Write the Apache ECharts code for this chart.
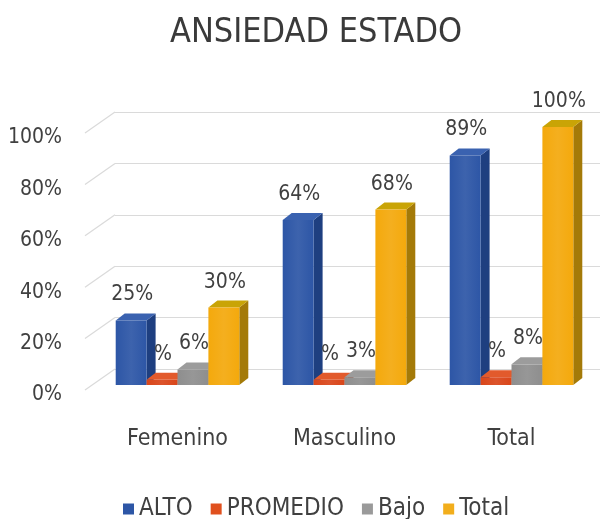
<!DOCTYPE html>
<html><head><meta charset="utf-8">
<script src="https://cdn.jsdelivr.net/npm/echarts@6/dist/echarts.min.js"></script>
<style>html,body{margin:0;padding:0;background:#fff}#c{width:608px;height:519px}</style>
</head><body><div id="c"></div>
<script>
var categories = ['Femenino', 'Masculino', 'Total'];
var seriesNames = ['ALTO', 'PROMEDIO', 'Bajo', 'Total'];
var alto = [25, 64, 89];
var promedio = [2, 2, 3];
var bajo = [6, 3, 8];
var total = [30, 68, 100];
var yTicks = [0, 20, 40, 60, 80, 100];
var showNumber = [true, false, true, true];

var FONT = '"Liberation Sans Narrow", "DejaVu Sans Condensed", sans-serif';
var palettes = [
  {front: '#2D56A6', top: '#3A62B0', side: '#1E3F80', legend: '#2D56A6'},
  {front: '#D9461A', top: '#E25A2C', side: '#A83310', legend: '#E0501E'},
  {front: '#8E8E8E', top: '#9C9C9C', side: '#6E6E6E', legend: '#9A9A9A'},
  {front: '#F4A90C', top: '#C9A406', side: '#A47A08', legend: '#F2AE1C'}
];
var allData = [alto, promedio, bajo, total];
var DX = 9, DY = 7;

function makeRender(si) {
  return function (params, api) {
    var ci = api.value(0), v = api.value(1);
    var topPt = api.coord([ci, v]);
    var basePt = api.coord([ci, 0]);
    var band = api.size([1, 0])[0];
    var bw = band * 0.74 / 4;
    var x0 = topPt[0] - 2 * bw + si * bw;
    var yt = topPt[1], yb = basePt[1];
    var p = palettes[si];
    var children = [
      {type: 'polygon', shape: {points: [[x0 + bw, yt], [x0 + bw + DX, yt - DY], [x0 + bw + DX, yb - DY], [x0 + bw, yb]]},
        style: {fill: p.side}},
      {type: 'polygon', shape: {points: [[x0, yt], [x0 + DX, yt - DY], [x0 + bw + DX, yt - DY], [x0 + bw, yt]]},
        style: {fill: p.top}},
      {type: 'rect', shape: {x: x0, y: yt, width: bw, height: yb - yt},
        style: {fill: new echarts.graphic.LinearGradient(0, 0, 1, 0, [
          {offset: 0, color: p.front}, {offset: 0.5, color: echarts.color.lift(p.front, 0.08)}, {offset: 1, color: p.front}])}},
      {type: 'text', style: {
        text: showNumber[si] ? (v + '%') : '%',
        x: x0 + bw / 2 + 1, y: yt - DY - 8,
        align: 'center', verticalAlign: 'bottom',
        font: '21px ' + FONT, fill: '#404040'}}
    ];
    return {type: 'group', children: children};
  };
}

var series = [];
for (var s = 0; s < 4; s++) {
  series.push({
    name: seriesNames[s], type: 'custom', xAxisIndex: 1, yAxisIndex: 1,
    itemStyle: {color: palettes[s].legend},
    renderItem: makeRender(s),
    data: allData[s].map(function (v, i) { return [i, v]; }),
    z: 5
  });
}
// slanted connectors of the back-wall gridlines
series.push({
  type: 'custom', xAxisIndex: 0, yAxisIndex: 0, silent: true, z: 1,
  renderItem: function (params, api) {
    var p = api.coord([0, api.value(0)]);
    return {type: 'line', shape: {x1: p[0] - 30, y1: p[1] + 21, x2: p[0], y2: p[1]},
      style: {stroke: '#DADADA', lineWidth: 1.2}};
  },
  data: yTicks.map(function (t) { return [t]; })
});

var chart = echarts.init(document.getElementById('c'));
chart.setOption({
  backgroundColor: '#fff',
  animation: false,
  title: {text: 'ANSIEDAD ESTADO', left: 316, textAlign: 'center', top: 16, padding: 0,
    textStyle: {fontFamily: FONT, fontSize: 34, fontWeight: 'normal', color: '#3A3A3A'}},
  legend: {
    data: seriesNames.map(function (n) { return {name: n, icon: 'rect'}; }),
    bottom: -7, left: 118, itemWidth: 11, itemHeight: 11, itemGap: 18,
    textStyle: {fontFamily: FONT, fontSize: 24, color: '#404040'}
  },
  grid: [
    {left: 115, right: 8, top: 112, height: 257},
    {left: 94, right: 13, top: 127, height: 258},
    {left: 66, width: 1, top: 138, height: 257}
  ],
  xAxis: [
    {gridIndex: 0, type: 'value', min: 0, max: 1, show: false},
    {gridIndex: 1, type: 'category', data: categories,
      axisLine: {show: false}, axisTick: {show: false},
      axisLabel: {margin: 43, fontFamily: FONT, fontSize: 23, color: '#404040'}},
    {gridIndex: 2, type: 'value', show: false}
  ],
  yAxis: [
    {gridIndex: 0, type: 'value', min: 0, max: 100, interval: 20,
      axisLine: {show: false}, axisTick: {show: false}, axisLabel: {show: false},
      splitLine: {lineStyle: {color: '#DADADA', width: 1.2}}},
    {gridIndex: 1, type: 'value', min: 0, max: 100, interval: 20, show: false},
    {gridIndex: 2, type: 'value', min: 0, max: 100, interval: 20,
      axisLine: {show: false}, axisTick: {show: false}, splitLine: {show: false},
      axisLabel: {margin: 4, fontFamily: FONT, fontSize: 21, color: '#404040',
        formatter: function (v) { return v + '%'; }}}
  ],
  series: series
});
</script></body></html>
